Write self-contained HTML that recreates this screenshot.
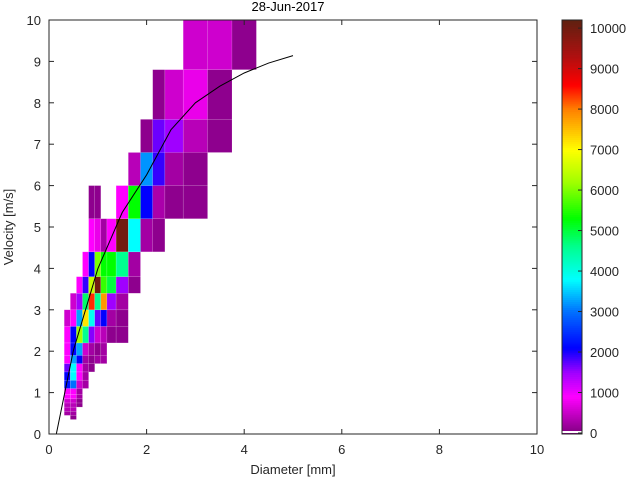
<!DOCTYPE html>
<html><head><meta charset="utf-8"><style>
body{margin:0;background:#fff;}
svg{display:block;font-family:"Liberation Sans",sans-serif;}
</style></head><body>
<svg id="chart" width="640" height="480" viewBox="0 0 640 480" xmlns="http://www.w3.org/2000/svg">
<rect x="0" y="0" width="640" height="480" fill="#fff"/>
<text x="288" y="11" font-size="13" text-anchor="middle" fill="#000">28-Jun-2017</text>
<g id="cells"></g>
<g id="fit"></g>
<rect x="49" y="20" width="488" height="414" fill="none" stroke="#262626" stroke-width="1"/>
<g id="axes"></g>
<text x="293" y="474" font-size="13" text-anchor="middle" fill="#262626">Diameter [mm]</text>
<text transform="translate(13,227) rotate(-90)" font-size="13" text-anchor="middle" fill="#262626">Velocity [m/s]</text>
<g id="cbar"></g>
</svg>
<script>
// Bin edges (pcolor with class centers)
const dEdges=[0.062,0.187,0.312,0.437,0.562,0.687,0.812,0.937,1.062,1.187,1.375,1.625,1.875,2.125,2.375,2.75,3.25,3.75,4.25,4.75];
const vEdges=[0.05,0.15,0.25,0.35,0.45,0.55,0.65,0.75,0.85,0.95,1.1,1.3,1.5,1.7,1.9,2.2,2.6,3.0,3.4,3.8,4.4,5.2,6.0,6.8,7.6,8.8,10.4];
// cell data: row index (velocity), column index (diameter), count
const cellRow=[3,4,4,5,5,6,6,6,7,7,7,8,8,8,9,9,9,
10,10,10,10,11,11,11,11,12,12,12,12,12,
13,13,13,13,13,13,13,14,14,14,14,14,14,14,
15,15,15,15,15,15,15,15,15,16,16,16,16,16,16,16,16,16,
17,17,17,17,17,17,17,17,18,18,18,18,18,18,18,18,
19,19,19,19,19,19,19,20,20,20,20,20,20,20,20,
21,21,21,21,21,21,21,21,22,22,22,22,22,23,23,23,23,23,24,24,24,24,25,25,25];
const cellCol=[3,2,3,2,3,2,3,4,2,3,4,2,3,4,2,3,4,
2,3,4,5,2,3,4,5,2,3,4,5,6,
2,3,4,5,6,7,8,2,3,4,5,6,7,8,
2,3,4,5,6,7,8,9,10,2,3,4,5,6,7,8,9,10,
3,4,5,6,7,8,9,10,4,5,6,7,8,9,10,11,
5,6,7,8,9,10,11,6,7,8,9,10,11,12,13,
6,7,10,11,12,13,14,15,11,12,13,14,15,12,13,14,15,16,13,14,15,16,15,16,17];
const cellVal=[100,250,250,400,400,400,400,100,550,550,100,900,900,250,900,900,250,
2300,3000,550,250,2100,3800,900,250,1700,3800,900,250,100,
900,3300,2100,250,100,250,250,900,2100,3300,550,250,100,250,
900,2100,6200,4600,1600,550,400,100,100,550,900,3300,7200,3900,1700,2100,250,100,
550,1500,4800,8400,4600,7800,1500,250,900,1900,6500,10000,5600,5000,1500,100,
900,2100,6000,5300,5300,4600,250,900,750,250,900,10000,3800,250,100,
100,100,900,5300,2100,300,100,100,400,3200,1900,250,100,100,1700,1500,400,100,100,550,750,100,550,550,100];
// fit curve
const fitD=[0.15,0.5,1,1.5,2,2.5,3,3.5,4,4.5,5];
const fitV=[0,2.02,3.99,5.35,6.26,7.35,8.0,8.4,8.72,8.96,9.14];
const xTicks=[0,2,4,6,8,10];
const yTicks=[0,1,2,3,4,5,6,7,8,9,10];
const cTicks=[0,1000,2000,3000,4000,5000,6000,7000,8000,9000,10000];
const cMax=10200;

const NS="http://www.w3.org/2000/svg";
const X0=49,X1=537,Y0=434,Y1=20;
const xs=d=>X0+(X1-X0)*d/10;
const ys=v=>Y0-(Y0-Y1)*v/10;
const stops=[[0,[128,0,128]],[900,[255,0,255]],[1500,[160,0,255]],[2100,[0,0,255]],[3000,[0,112,255]],[3800,[0,255,255]],[4600,[0,255,144]],[5300,[0,255,0]],[6200,[160,255,0]],[7000,[255,255,0]],[8000,[255,128,0]],[8600,[255,0,0]],[9300,[176,16,16]],[10200,[96,32,16]]];
function cmap(v){
  for(let i=1;i<stops.length;i++){
    if(v<=stops[i][0]){const a=stops[i-1],b=stops[i];const t=(v-a[0])/(b[0]-a[0]);
      return 'rgb('+a[1].map((c,k)=>Math.round(c+(b[1][k]-c)*t)).join(',')+')';}
  }
  return 'rgb(96,32,16)';
}
function mk(tag,attrs,parent){const e=document.createElementNS(NS,tag);for(const k in attrs)e.setAttribute(k,attrs[k]);parent.appendChild(e);return e;}

const cg=document.getElementById('cells');
for(let i=0;i<cellVal.length;i++){
  const r=cellRow[i],c=cellCol[i];
  const x=xs(dEdges[c]),x2=xs(dEdges[c+1]);
  const yTop=Math.max(ys(vEdges[r+1]),Y1),yb=ys(vEdges[r]);
  const el=mk('rect',{x:x,y:yTop,width:x2-x,height:yb-yTop,fill:cmap(cellVal[i]),stroke:'rgba(255,255,255,0.25)','stroke-width':0.5},cg);
  
  
}
const fg=document.getElementById('fit');
const pl=mk('polyline',{points:fitD.map((d,i)=>xs(d)+','+ys(fitV[i])).join(' '),fill:'none',stroke:'#000','stroke-width':1},fg);



const ag=document.getElementById('axes');
xTicks.forEach(t=>{
  const x=xs(t);
  mk('line',{x1:x,y1:Y0,x2:x,y2:Y0-5,stroke:'#262626'},ag);
  mk('line',{x1:x,y1:Y1,x2:x,y2:Y1+5,stroke:'#262626'},ag);
  const tx=mk('text',{x:x,y:454,'font-size':13,'text-anchor':'middle',fill:'#262626'},ag);
  tx.textContent=t;
  
  
});
yTicks.forEach(t=>{
  const y=ys(t);
  mk('line',{x1:X0,y1:y,x2:X0+5,y2:y,stroke:'#262626'},ag);
  mk('line',{x1:X1,y1:y,x2:X1-5,y2:y,stroke:'#262626'},ag);
  const tx=mk('text',{x:41,y:y+5,'font-size':13,'text-anchor':'end',fill:'#262626'},ag);
  tx.textContent=t;
  
  
});

const bg=document.getElementById('cbar');
const CX=562,CW=20,CB=433,CT=20;
const cy=v=>CB-(CB-CT)*v/cMax;
for(let v=0;v<cMax;v+=50){
  mk('rect',{x:CX,y:cy(v+50),width:CW,height:cy(v)-cy(v+50)+0.6,fill:cmap(v+25)},bg);
}
mk('rect',{x:CX,y:CB-2,width:CW,height:2,fill:'#fff'},bg);
mk('rect',{x:CX,y:CT,width:CW,height:CB-CT+1,fill:'none',stroke:'#262626'},bg);
cTicks.forEach(t=>{
  const y=cy(t);
  mk('line',{x1:CX+CW,y1:y,x2:CX+CW-4,y2:y,stroke:'#262626'},bg);
  const tx=mk('text',{x:590,y:y+5,'font-size':13,fill:'#262626'},bg);
  tx.textContent=t;
  
  
});
</script>
</body></html>
